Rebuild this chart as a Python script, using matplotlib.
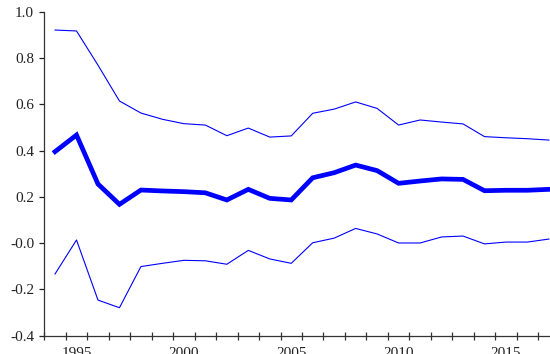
import matplotlib
matplotlib.use('Agg')

import numpy as np
import matplotlib.pyplot as plt
from matplotlib.ticker import FixedLocator, FixedFormatter

years = list(range(1994, 2018))

upper = [0.922, 0.918, 0.770, 0.615, 0.563, 0.536, 0.517, 0.511, 0.465, 0.498,
         0.459, 0.464, 0.562, 0.580, 0.611, 0.583, 0.511, 0.533, 0.524, 0.516,
         0.461, 0.456, 0.452, 0.446]
middle = [0.396, 0.468, 0.256, 0.168, 0.230, 0.226, 0.223, 0.218, 0.187, 0.233,
          0.194, 0.187, 0.283, 0.305, 0.338, 0.314, 0.259, 0.269, 0.278, 0.276,
          0.227, 0.229, 0.229, 0.233]
lower = [-0.133, 0.014, -0.246, -0.279, -0.101, -0.087, -0.074, -0.076, -0.091, -0.031,
         -0.068, -0.087, 0.002, 0.022, 0.064, 0.040, 0.001, 0.001, 0.027, 0.031,
         -0.003, 0.005, 0.005, 0.018]

xtick_years = [1995, 2000, 2005, 2010, 2015]
ytick_values = [-0.4, -0.2, 0.0, 0.2, 0.4, 0.6, 0.8, 1.0]
ytick_labels = ["-0.4", "-0.2", "-0.0", "0.2", "0.4", "0.6", "0.8", "1.0"]

plt.rcParams['font.family'] = ['Liberation Serif', 'DejaVu Serif']
plt.rcParams['font.size'] = 11

fig = plt.figure(figsize=(5.5, 3.54), dpi=100)
ax = fig.add_axes([44.3 / 550, 1 - 335.7 / 354, 1 - 44.3 / 550, (335.7 - 12) / 354])

ax.plot(years, upper, color='#0000ff', lw=0.8)
ax.plot(years, middle, color='#0000ff', lw=3.4, solid_joinstyle='miter')
ax.plot(years, lower, color='#0000ff', lw=0.8)

ax.set_xlim(1993.5, 2017.05)
ax.set_ylim(-0.4, 1.0)

for s in ['top', 'right']:
    ax.spines[s].set_visible(False)
for s in ['left', 'bottom']:
    ax.spines[s].set_color('#333333')
    ax.spines[s].set_linewidth(0.9)

ax.xaxis.set_major_locator(FixedLocator(xtick_years))
ax.xaxis.set_major_formatter(FixedFormatter([str(y) for y in xtick_years]))
ax.xaxis.set_minor_locator(FixedLocator(np.arange(1993.5, 2017, 1.0)))
ax.tick_params(axis='x', which='major', length=0, pad=8, colors='#222222')
ax.tick_params(axis='x', which='minor', direction='inout', length=6, width=0.9, color='#333333')

ax.yaxis.set_major_locator(FixedLocator(ytick_values))
ax.yaxis.set_major_formatter(FixedFormatter(ytick_labels))
ax.tick_params(axis='y', direction='out', length=3.8, width=0.9, pad=3.6,
               colors='#222222')

fig.savefig('out.png', dpi=100)
